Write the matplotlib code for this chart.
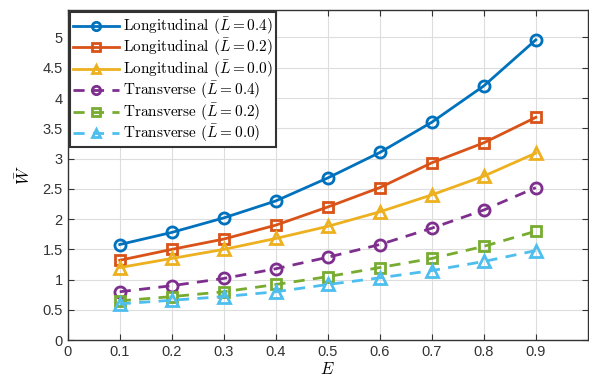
import matplotlib
matplotlib.use('Agg')
import matplotlib.pyplot as plt
import numpy as np

# --- Data ---
E = [0.1, 0.2, 0.3, 0.4, 0.5, 0.6, 0.7, 0.8, 0.9]

long_04 = [1.58, 1.78, 2.02, 2.30, 2.68, 3.10, 3.60, 4.20, 4.96]
long_02 = [1.32, 1.50, 1.67, 1.90, 2.20, 2.52, 2.93, 3.26, 3.68]
long_00 = [1.20, 1.35, 1.50, 1.68, 1.88, 2.12, 2.40, 2.71, 3.09]
trans_04 = [0.80, 0.90, 1.02, 1.18, 1.37, 1.58, 1.85, 2.15, 2.52]
trans_02 = [0.65, 0.72, 0.80, 0.92, 1.05, 1.20, 1.35, 1.55, 1.80]
trans_00 = [0.60, 0.66, 0.72, 0.80, 0.92, 1.03, 1.15, 1.30, 1.48]

labels = [r'Longitudinal ($\bar{L} = 0.4$)',
          r'Longitudinal ($\bar{L} = 0.2$)',
          r'Longitudinal ($\bar{L} = 0.0$)',
          r'Transverse ($\bar{L} = 0.4$)',
          r'Transverse ($\bar{L} = 0.2$)',
          r'Transverse ($\bar{L} = 0.0$)']

xticks = [0, 0.1, 0.2, 0.3, 0.4, 0.5, 0.6, 0.7, 0.8, 0.9]
yticks = [0, 0.5, 1, 1.5, 2, 2.5, 3, 3.5, 4, 4.5, 5]

# MATLAB default colours
colors = ['#0072BD', '#D95319', '#EDB120', '#7E2F8E', '#77AC30', '#4DBEEE']

plt.rcParams['mathtext.fontset'] = 'cm'

fig = plt.figure(figsize=(5.89, 3.78), dpi=100)
ax = fig.add_axes([0.115, 0.10, 0.883, 0.873])

series = [long_04, long_02, long_00, trans_04, trans_02, trans_00]
markers = ['o', 's', '^', 'o', 's', '^']
for i, ys in enumerate(series):
    ls = '-' if i < 3 else (0, (4, 3))
    ax.plot(E, ys, linestyle=ls, color=colors[i], marker=markers[i],
            markersize=8 if markers[i] != 's' else 7, markerfacecolor='none',
            markeredgewidth=2, linewidth=2, label=labels[i])

ax.set_xlim(0, 1)
ax.set_ylim(0, 5.45)
ax.set_xticks(xticks)
ax.set_yticks(yticks)
ax.set_xticklabels([f'{t:g}' for t in xticks])
ax.set_yticklabels([f'{t:g}' for t in yticks])

ax.grid(True, color='#dddddd', linewidth=0.8)
ax.set_axisbelow(True)
ax.tick_params(direction='in', top=True, right=True, length=4, color='#333333',
               labelsize=10.5, labelcolor='#333333')
for lbl in ax.get_xticklabels() + ax.get_yticklabels():
    lbl.set_family('Liberation Sans')
for sp in ax.spines.values():
    sp.set_color('#333333')
    sp.set_linewidth(1)

ax.set_xlabel(r'$E$', fontsize=12, labelpad=1)
ax.set_ylabel(r'$\bar{W}$', fontsize=12, labelpad=6)

leg = ax.legend(loc='upper left', prop={'family': 'cmr10', 'size': 11},
                labelspacing=0.0, handlelength=3.0, handletextpad=0.3,
                markerscale=0.75, handleheight=0.6,
                borderpad=0.2, borderaxespad=0.15, fancybox=False, framealpha=1)
leg.get_frame().set_edgecolor('#333333')
leg.get_frame().set_linewidth(1.5)

fig.savefig('out.png', dpi=100)
